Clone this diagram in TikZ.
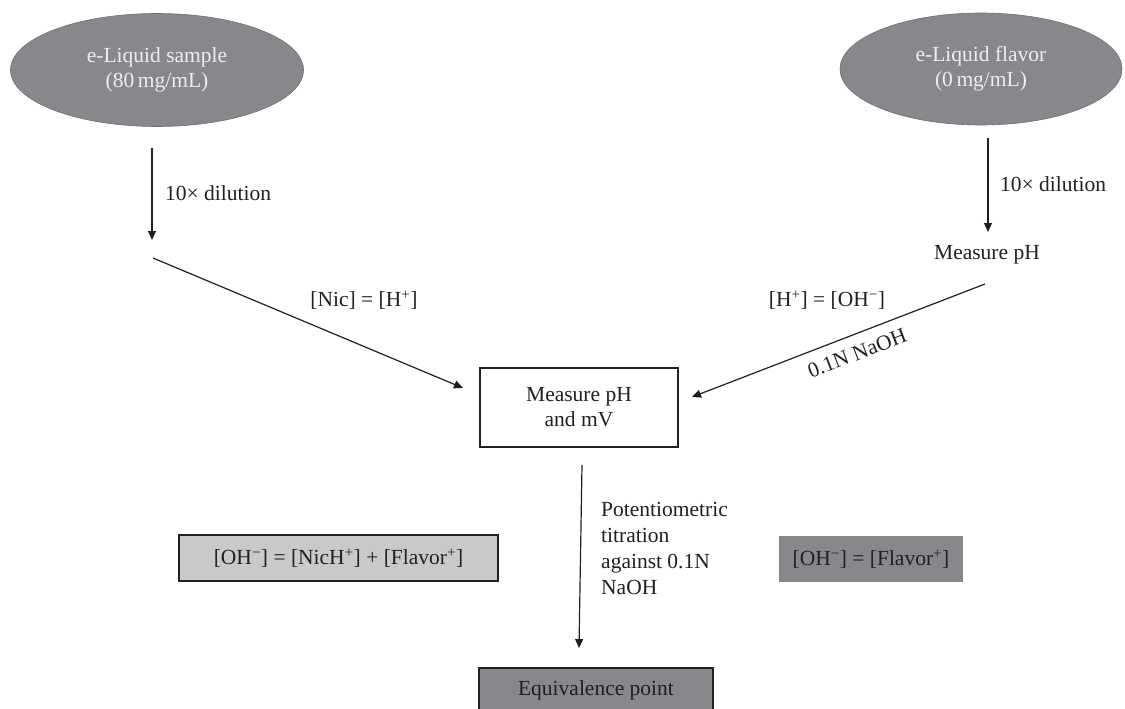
\documentclass[tikz,border=0pt]{standalone}
\usepackage{fontspec}
\setmainfont{Liberation Serif}
\usetikzlibrary{arrows.meta,shapes.geometric}
\definecolor{darkfill}{RGB}{135,136,140}
\definecolor{lightfill}{RGB}{200,201,203}
\definecolor{ellipsetext}{RGB}{238,238,238}
\definecolor{edgegray}{RGB}{110,110,112}
\definecolor{inkc}{RGB}{35,31,32}
\begin{document}
\begin{tikzpicture}[x=1pt,y=-1pt,
  font=\fontsize{21.5}{25}\selectfont, text=inkc,
  arr/.style={draw=inkc,line width=1.2pt,-{Triangle[length=9pt,width=8pt]}},
  sourceell/.style={ellipse,fill=darkfill,draw=edgegray,line width=0.6pt,
    minimum width=293pt,minimum height=113pt,inner sep=0pt,
    text=ellipsetext,align=center},
  whitebox/.style={draw=inkc,line width=1.1pt,fill=white,minimum width=198pt,
    minimum height=79pt,align=center,inner sep=0pt},
  lightbox/.style={draw=inkc,line width=1.1pt,fill=lightfill,minimum width=319pt,
    minimum height=46pt,inner sep=0pt},
  darkbox/.style={fill=darkfill,minimum width=184pt,minimum height=46pt,inner sep=0pt},
  eqbox/.style={draw=inkc,line width=1.1pt,fill=darkfill,minimum width=234pt,
    minimum height=56pt,inner sep=0pt},
  lbl/.style={inner sep=0pt}
]
\useasboundingbox (0,0) rectangle (1125,709);

% source ellipses
\node[sourceell] (sample) at (157,70) {e-Liquid sample\\(80\,mg/mL)};
\node[sourceell,minimum width=282pt,minimum height=112pt] (flavor) at (981,69) {e-Liquid flavor\\(0\,mg/mL)};

% dilution arrows
\coordinate (s1) at (152,148);
\coordinate (s2) at (152,240);
\draw[arr] (s1) -- (s2);
\node[lbl,anchor=west] (dil1) at (165,193) {10× dilution};

\coordinate (f1) at (988,138);
\coordinate (f2) at (988,232);
\draw[arr] (f1) -- (f2);
\node[lbl,anchor=west] (dil2) at (1000,184) {10× dilution};

\node[lbl] (mph) at (987,255) {Measure pH};

% central box
\node[whitebox] (center) at (579,407.5) {Measure pH\\and mV};

% diagonals
\coordinate (l1) at (153,258);
\coordinate (l2) at (463,388);
\draw[arr] (l1) -- (l2);
\node[lbl] (nic) at (364,300) {[Nic] = [H\textsuperscript{+}]};

\coordinate (r1) at (985,284);
\coordinate (r2) at (692,397);
\draw[arr] (r1) -- (r2);
\node[lbl] (hoh) at (827,300) {[H\textsuperscript{+}] = [OH\textsuperscript{−}]};
\node[lbl,rotate=21] (naoh) at (857,353) {0.1N NaOH};

% titration arrow
\coordinate (c1) at (582,465);
\coordinate (c2) at (579,648);
\draw[arr] (c1) -- (c2);
\node[lbl,anchor=north west,align=left,font=\fontsize{21.5}{26}\selectfont] (pot) at (601,502)
  {Potentiometric\\titration\\against 0.1N\\NaOH};

% result boxes
\node[lightbox] (nicbox) at (338.5,558) {[OH\textsuperscript{−}] = [NicH\textsuperscript{+}] + [Flavor\textsuperscript{+}]};
\node[darkbox] (flbox) at (871,559) {[OH\textsuperscript{−}] = [Flavor\textsuperscript{+}]};
\node[eqbox] (eq) at (596,696) {};
\node[lbl] (eqtext) at (596,690) {Equivalence point};
\end{tikzpicture}
\end{document}
